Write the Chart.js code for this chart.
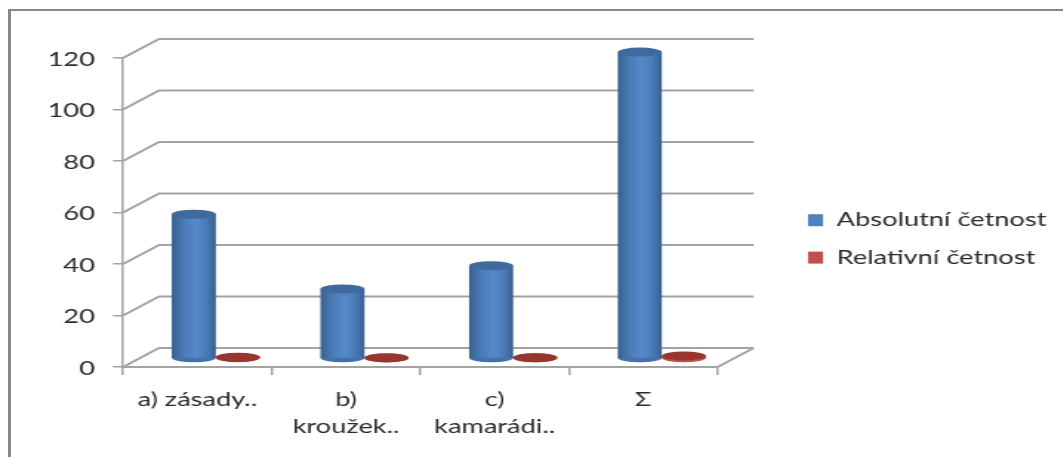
<!DOCTYPE html>
<html>
<head>
<meta charset="utf-8">
<script src="https://cdn.jsdelivr.net/npm/chart.js@4"></script>
<style>
  html, body { margin: 0; padding: 0; background: #fff; overflow: hidden; }
  #frame { position: absolute; left: 8px; top: 9px; right: -4px; bottom: -4px; border-left: 3px solid #888; border-top: 2px solid #888; }
  /* the reference is a soft screenshot stretched sideways, so the whole canvas is too */
  #chart { position: absolute; left: 0; top: 0; transform: scaleX(1.48); transform-origin: 0 0; filter: blur(0.4px); }
</style>
</head>
<body>
<div id="frame"></div>
<canvas id="chart" width="718" height="457"></canvas>
<script>
const categories = ['a) zásady..', ['b)', 'kroužek..'], ['c)', 'kamarádi..'], 'Σ'];
const absolutni  = [56, 27, 36, 119];
const relativni  = [0.47, 0.23, 0.3, 1];
const seriesNames = ['Absolutní četnost', 'Relativní četnost'];

// ——— layout ———
const STRETCH = 1.48;          // sideways stretch of the screenshot
const px = v => v / STRETCH;   // screen px -> canvas px, horizontal only
const WALL_DX = px(36), WALL_DY = -19;   // depth of the fake 3d box
const BAR_DX = px(18.5), BAR_DY = -8.5;  // bars stand mid-way into the box
const CAP_RY = 4.5;
const GROUP_PCT = 0.593;       // both bars together, they touch
const LINE = '#a3a3a3';
const TEXT = '#2b2b2b';
const FONT = { family: 'Lato', size: 18.4 };
const legendColors = ['#4f81bd', '#c0504d'];

// shaded cylinder side, worked out from the category scale
function cylinderFill(c, dark, edge, mid) {
  const x = c.chart.scales.x;
  if (c.dataIndex === undefined || !x) return mid;
  const bw = (x.getPixelForValue(1) - x.getPixelForValue(0)) * GROUP_PCT / 2;
  const left = x.getPixelForValue(c.dataIndex) + (c.datasetIndex - 1) * bw;
  if (!Number.isFinite(left) || !Number.isFinite(bw)) return mid; // first pass, no layout yet
  const g = c.chart.ctx.createLinearGradient(left, 0, left + bw, 0);
  g.addColorStop(0, dark);
  g.addColorStop(0.25, edge);
  g.addColorStop(0.55, mid);
  g.addColorStop(0.8, edge);
  g.addColorStop(1, dark);
  return g;
}

const capColors = ['#3f6a9d', '#97352f'];
const footColors = ['#4472a8', '#c0504d'];

function ellipse(ctx, x, y, rx, ry, color) {
  ctx.fillStyle = color;
  ctx.beginPath();
  ctx.ellipse(x, y, rx, ry, 0, 0, Math.PI * 2);
  ctx.fill();
}

const box3d = {
  id: 'box3d',
  afterLayout(chart) {
    // legend sits in the blank space right of the box
    const lg = chart.legend;
    lg.left = px(808) - lg.options.labels.padding;
    lg.right = lg.left + lg.width;
    lg.top = 192;
    lg.bottom = lg.top + 100;
  },
  beforeDatasetsDraw(chart) {
    const { ctx, scales: { x, y } } = chart;
    ctx.save();
    ctx.strokeStyle = LINE;
    ctx.lineWidth = 2;
    y.ticks.forEach((t, i) => {
      const py = y.getPixelForTick(i);
      ctx.beginPath();
      ctx.moveTo(x.left, py);
      ctx.lineTo(x.left + WALL_DX, py + WALL_DY);
      ctx.lineTo(x.right + WALL_DX, py + WALL_DY);
      ctx.stroke();
    });
    ctx.beginPath();
    ctx.moveTo(x.right, y.bottom);
    ctx.lineTo(x.right + WALL_DX, y.bottom + WALL_DY);
    ctx.stroke();
    ctx.restore();

    // bars are moved into the box, caps go on in afterDatasetsDraw
    ctx.save();
    ctx.translate(BAR_DX, BAR_DY);
    chart.getSortedVisibleDatasetMetas().forEach(m => {
      m.data.forEach(el => {
        const p = el.getProps(['x', 'base', 'width'], true);
        ellipse(ctx, p.x, p.base, p.width / 2, CAP_RY, footColors[m.index]);
      });
    });
  },
  afterDatasetsDraw(chart) {
    const { ctx } = chart;
    chart.getSortedVisibleDatasetMetas().forEach(m => {
      m.data.forEach(el => {
        const p = el.getProps(['x', 'y', 'width'], true);
        ellipse(ctx, p.x, p.y, p.width / 2, CAP_RY, capColors[m.index]);
      });
    });
    ctx.restore();
  }
};

new Chart(document.getElementById('chart'), {
  type: 'bar',
  plugins: [box3d],
  data: {
    labels: categories,
    datasets: [
      { label: seriesNames[0], data: absolutni, clip: false,
        backgroundColor: c => cylinderFill(c, '#38608f', '#4a79b5', '#5789ca') },
      { label: seriesNames[1], data: relativni, clip: false,
        backgroundColor: c => cylinderFill(c, '#a33c39', '#b5464a', '#c0504d') }
    ]
  },
  options: {
    responsive: false,
    animation: false,
    devicePixelRatio: 1,
    layout: { autoPadding: false, padding: { top: 58, right: px(1063 - 718), bottom: 0, left: 0 } },
    datasets: { bar: { categoryPercentage: GROUP_PCT, barPercentage: 1, borderWidth: 0 } },
    scales: {
      x: {
        afterFit: a => { a.height = 90; },
        grid: { drawOnChartArea: false, color: LINE, lineWidth: 1.5, tickLength: 8 },
        border: { color: LINE, width: 2 },
        ticks: { color: TEXT, font: { ...FONT, lineHeight: 1.48 }, padding: 11, autoSkip: false, maxRotation: 0 }
      },
      y: {
        min: 0, max: 120,
        afterFit: a => { a.width = px(123); },
        grid: { drawOnChartArea: false, color: LINE, lineWidth: 1.5, tickLength: px(10) },
        border: { color: LINE, width: 1.5 },
        ticks: { stepSize: 20, color: TEXT, font: FONT, padding: px(18), labelOffset: 2 }
      }
    },
    plugins: {
      tooltip: { enabled: false },
      legend: {
        position: 'chartArea',
        align: 'start',
        labels: {
          color: TEXT, font: FONT, boxWidth: px(15), boxHeight: 12, padding: 19,
          generateLabels: chart => Chart.defaults.plugins.legend.labels.generateLabels(chart)
            .map((item, i) => ({ ...item, fillStyle: legendColors[i], strokeStyle: legendColors[i], lineWidth: 0 }))
        }
      }
    }
  }
});
</script>
</body>
</html>
